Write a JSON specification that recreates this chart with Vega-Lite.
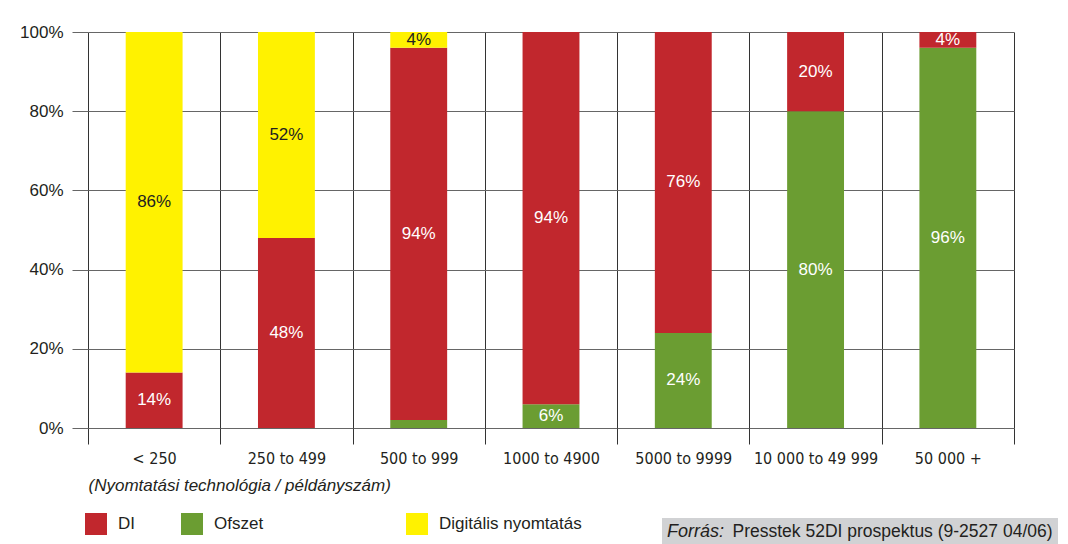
{
  "$schema": "https://vega.github.io/schema/vega-lite/v6.json",
  "width": 926,
  "height": 396,
  "autosize": "none",
  "padding": {"left": 88, "top": 32, "right": 54, "bottom": 116},
  "background": "white",
  "config": {
    "font": "Liberation Sans",
    "view": {"stroke": null}
  },
  "layer": [
    {
      "data": {
        "values": [
          {"cat": "< 250", "tech": "DI", "value": 14},
          {"cat": "< 250", "tech": "Digitális nyomtatás", "value": 86},
          {"cat": "250 to 499", "tech": "DI", "value": 48},
          {"cat": "250 to 499", "tech": "Digitális nyomtatás", "value": 52},
          {"cat": "500 to 999", "tech": "Ofszet", "value": 2},
          {"cat": "500 to 999", "tech": "DI", "value": 94},
          {"cat": "500 to 999", "tech": "Digitális nyomtatás", "value": 4},
          {"cat": "1000 to 4900", "tech": "Ofszet", "value": 6},
          {"cat": "1000 to 4900", "tech": "DI", "value": 94},
          {"cat": "5000 to 9999", "tech": "Ofszet", "value": 24},
          {"cat": "5000 to 9999", "tech": "DI", "value": 76},
          {"cat": "10 000 to 49 999", "tech": "Ofszet", "value": 80},
          {"cat": "10 000 to 49 999", "tech": "DI", "value": 20},
          {"cat": "50 000 +", "tech": "Ofszet", "value": 96},
          {"cat": "50 000 +", "tech": "DI", "value": 4}
        ]
      },
      "transform": [
        {"calculate": "indexof(['Ofszet','DI','Digitális nyomtatás'], datum.tech)", "as": "ord"},
        {"stack": "value", "groupby": ["cat"], "sort": [{"field": "ord", "order": "ascending"}], "as": ["y0", "y1"]},
        {"calculate": "(datum.y0 + datum.y1) / 2", "as": "mid"},
        {"calculate": "datum.value + '%'", "as": "label"}
      ],
      "encoding": {
        "x": {
          "field": "cat",
          "type": "nominal",
          "sort": ["< 250", "250 to 499", "500 to 999", "1000 to 4900", "5000 to 9999", "10 000 to 49 999", "50 000 +"],
          "scale": {"paddingInner": 0, "paddingOuter": 0},
          "axis": {
            "tickBand": "extent",
            "grid": true,
            "gridColor": "#333333",
            "gridWidth": 1,
            "tickColor": "#333333",
            "tickSize": 16,
            "domain": false,
            "labelAngle": 0,
            "labelFont": "Liberation Sans Narrow, DejaVu Sans Condensed, sans-serif",
            "labelFontSize": 16,
            "labelColor": "#231f20",
            "labelPadding": 6,
            "title": "(Nyomtatási technológia / példányszám)",
            "titleAnchor": "start",
            "titleAlign": "left",
            "titleFontStyle": "italic",
            "titleFontWeight": "normal",
            "titleFontSize": 17,
            "titleColor": "#231f20",
            "titlePadding": 11
          }
        }
      },
      "layer": [
        {
          "mark": {"type": "bar", "width": {"band": 0.43}},
          "encoding": {
            "y": {
              "field": "y1",
              "type": "quantitative",
              "scale": {"domain": [0, 100], "nice": false},
              "axis": {
                "values": [0, 20, 40, 60, 80, 100],
                "labelExpr": "datum.value + '%'",
                "grid": true,
                "gridColor": "#666666",
                "tickColor": "#666666",
                "tickSize": 16,
                "domain": false,
                "labelPadding": 9,
                "labelFontSize": 17,
                "labelColor": "#231f20",
                "title": null
              }
            },
            "y2": {"field": "y0"},
            "color": {
              "field": "tech",
              "type": "nominal",
              "scale": {
                "domain": ["DI", "Ofszet", "Digitális nyomtatás"],
                "range": ["#c1272d", "#6b9d32", "#fff200"]
              },
              "legend": {
                "orient": "none",
                "legendX": -3,
                "legendY": 481,
                "direction": "horizontal",
                "title": null,
                "symbolType": "square",
                "symbolSize": 484,
                "symbolStrokeWidth": 0,
                "labelFontSize": 17,
                "labelColor": "#231f20",
                "labelOffset": 11,
                "labelLimit": 1000,
                "columnPadding": 46,
                "encode": {
                  "symbols": {
                    "update": {
                      "fill": {"signal": "datum.value === 'Ofszet' ? '#8cc63e' : datum.value === 'DI' ? '#c1272d' : '#fff200'"},
                      "fillOpacity": {"value": 1}
                    }
                  },
                  "labels": {
                    "update": {
                      "text": {"signal": "datum.value === 'Ofszet' ? 'Ofszet\u2800\u2800\u2800\u2800\u2800\u2800\u2800\u2800' : datum.value"}
                    }
                  }
                }
              }
            }
          }
        },
        {
          "transform": [{"filter": "datum.value > 2"}],
          "mark": {"type": "text", "fontSize": 17, "baseline": "middle", "align": "center"},
          "encoding": {
            "y": {"field": "mid", "type": "quantitative"},
            "text": {"field": "label"},
            "color": {
              "condition": {"test": "datum.tech === 'Digitális nyomtatás'", "value": "#231f20"},
              "value": "#ffffff"
            }
          }
        }
      ]
    },
    {
      "data": {"values": [{"src": "Presstek 52DI prospektus (9-2527 04/06)"}]},
      "mark": {"type": "text", "text": ""},
      "encoding": {
        "color": {
          "field": "src",
          "type": "nominal",
          "scale": {"range": ["#d1d2d4"]},
          "legend": {
            "orient": "none",
            "legendX": 574,
            "legendY": 486,
            "title": "Forrás:",
            "titleOrient": "left",
            "titleFontStyle": "italic",
            "titleFontWeight": "normal",
            "titleFontSize": 18,
            "titleColor": "#231f20",
            "titlePadding": 0,
            "labelFontSize": 17.5,
            "labelColor": "#231f20",
            "labelOffset": -10,
            "labelLimit": 0,
            "symbolSize": 0,
            "symbolOpacity": 0,
            "symbolStrokeWidth": 0,
            "fillColor": "#d1d2d4",
            "padding": 5
          }
        }
      }
    }
  ],
  "resolve": {"scale": {"color": "independent"}}
}
